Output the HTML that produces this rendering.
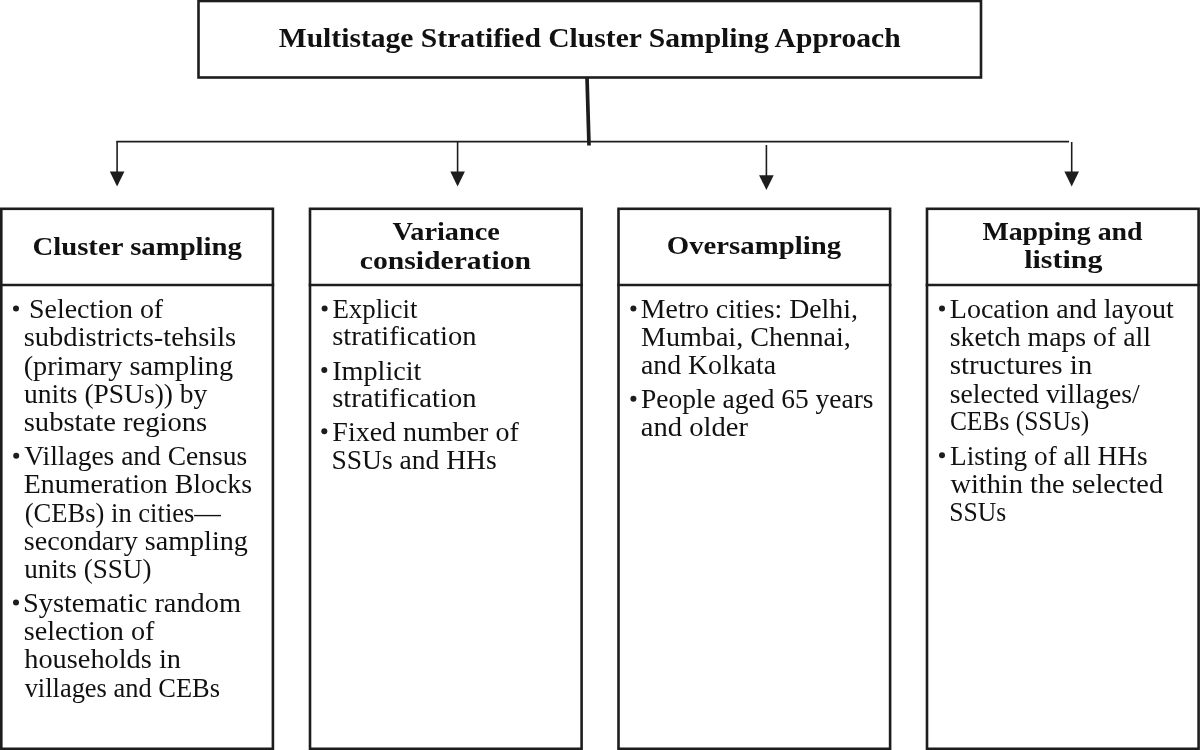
<!DOCTYPE html><html><head><meta charset="utf-8"><style>html,body{margin:0;padding:0;background:#fff;overflow:hidden}svg{display:block;will-change:transform}</style></head><body>
<svg width="1200" height="750" viewBox="0 0 1200 750">
<rect x="198.5" y="1" width="782.5" height="76.5" fill="none" stroke="#1d1d1d" stroke-width="2.6"/>
<line x1="587" y1="77" x2="589" y2="145.5" stroke="#1d1d1d" stroke-width="3.7"/>
<line x1="116.5" y1="141.6" x2="1069" y2="141.6" stroke="#1d1d1d" stroke-width="1.6"/>
<line x1="117.1" y1="141" x2="117.1" y2="173.6" stroke="#1d1d1d" stroke-width="1.6"/>
<polygon points="109.8,171.6 124.39999999999999,171.6 117.1,186.4" fill="#1d1d1d"/>
<line x1="457.6" y1="141" x2="457.6" y2="173.6" stroke="#1d1d1d" stroke-width="1.6"/>
<polygon points="450.3,171.6 464.90000000000003,171.6 457.6,186.4" fill="#1d1d1d"/>
<line x1="766.4" y1="145" x2="766.4" y2="177.2" stroke="#1d1d1d" stroke-width="1.6"/>
<polygon points="759.1,175.2 773.6999999999999,175.2 766.4,190.0" fill="#1d1d1d"/>
<line x1="1071.7" y1="142" x2="1071.7" y2="173.6" stroke="#1d1d1d" stroke-width="1.6"/>
<polygon points="1064.4,171.6 1079.0,171.6 1071.7,186.4" fill="#1d1d1d"/>
<rect x="1.3" y="208.8" width="271.59999999999997" height="540" fill="none" stroke="#1d1d1d" stroke-width="2.6"/>
<line x1="0" y1="285" x2="274.2" y2="285" stroke="#1d1d1d" stroke-width="2.6"/>
<rect x="310.0" y="208.8" width="271.59999999999997" height="540" fill="none" stroke="#1d1d1d" stroke-width="2.6"/>
<line x1="308.7" y1="285" x2="582.9" y2="285" stroke="#1d1d1d" stroke-width="2.6"/>
<rect x="618.5" y="208.8" width="271.59999999999997" height="540" fill="none" stroke="#1d1d1d" stroke-width="2.6"/>
<line x1="617.2" y1="285" x2="891.4000000000001" y2="285" stroke="#1d1d1d" stroke-width="2.6"/>
<rect x="927.0" y="208.8" width="271.59999999999997" height="540" fill="none" stroke="#1d1d1d" stroke-width="2.6"/>
<line x1="925.7" y1="285" x2="1199.9" y2="285" stroke="#1d1d1d" stroke-width="2.6"/>
<circle cx="16" cy="308.6" r="3" fill="#1d1d1d"/>
<circle cx="16.2" cy="455.7" r="3" fill="#1d1d1d"/>
<circle cx="16" cy="602.5" r="3" fill="#1d1d1d"/>
<circle cx="324.6" cy="308.6" r="3" fill="#1d1d1d"/>
<circle cx="324.3" cy="370" r="3" fill="#1d1d1d"/>
<circle cx="324.3" cy="431.3" r="3" fill="#1d1d1d"/>
<circle cx="633.4" cy="308.6" r="3" fill="#1d1d1d"/>
<circle cx="633.4" cy="398.7" r="3" fill="#1d1d1d"/>
<circle cx="942" cy="308.4" r="3" fill="#1d1d1d"/>
<circle cx="942" cy="455.2" r="3" fill="#1d1d1d"/>
<g font-family="&quot;Liberation Serif&quot;, serif" fill="#111">
<text x="278.73" y="47" font-size="28.0" font-weight="bold" textLength="621.89" lengthAdjust="spacingAndGlyphs">Multistage Stratified Cluster Sampling Approach</text>
<text x="32.46" y="254.5" font-size="25.8" font-weight="bold" textLength="209.51" lengthAdjust="spacingAndGlyphs">Cluster sampling</text>
<text x="392.47" y="240.3" font-size="25.8" font-weight="bold" textLength="107.34" lengthAdjust="spacingAndGlyphs">Variance</text>
<text x="359.75" y="268.6" font-size="25.8" font-weight="bold" textLength="171.29" lengthAdjust="spacingAndGlyphs">consideration</text>
<text x="666.81" y="254.3" font-size="25.8" font-weight="bold" textLength="174.25" lengthAdjust="spacingAndGlyphs">Oversampling</text>
<text x="982.40" y="240.3" font-size="25.8" font-weight="bold" textLength="160.17" lengthAdjust="spacingAndGlyphs">Mapping and</text>
<text x="1024.23" y="268.4" font-size="25.8" font-weight="bold" textLength="78.18" lengthAdjust="spacingAndGlyphs">listing</text>
<text x="29.05" y="317.5" font-size="26.9" textLength="134.10" lengthAdjust="spacingAndGlyphs">Selection of</text>
<text x="23.71" y="346" font-size="26.9" textLength="212.52" lengthAdjust="spacingAndGlyphs">subdistricts-tehsils</text>
<text x="23.65" y="374.5" font-size="26.9" textLength="209.46" lengthAdjust="spacingAndGlyphs">(primary sampling</text>
<text x="24.06" y="403" font-size="26.9" textLength="183.31" lengthAdjust="spacingAndGlyphs">units (PSUs)) by</text>
<text x="23.71" y="430.5" font-size="26.9" textLength="183.57" lengthAdjust="spacingAndGlyphs">substate regions</text>
<text x="24.33" y="464.5" font-size="26.9" textLength="222.81" lengthAdjust="spacingAndGlyphs">Villages and Census</text>
<text x="23.84" y="493" font-size="26.9" textLength="228.30" lengthAdjust="spacingAndGlyphs">Enumeration Blocks</text>
<text x="24.76" y="521.5" font-size="26.9" textLength="196.19" lengthAdjust="spacingAndGlyphs">(CEBs) in cities—</text>
<text x="23.84" y="550" font-size="26.9" textLength="223.97" lengthAdjust="spacingAndGlyphs">secondary sampling</text>
<text x="24.15" y="578" font-size="26.9" textLength="127.28" lengthAdjust="spacingAndGlyphs">units (SSU)</text>
<text x="23.03" y="611.5" font-size="26.9" textLength="217.95" lengthAdjust="spacingAndGlyphs">Systematic random</text>
<text x="23.78" y="640" font-size="26.9" textLength="130.71" lengthAdjust="spacingAndGlyphs">selection of</text>
<text x="24.24" y="668.4" font-size="26.9" textLength="156.76" lengthAdjust="spacingAndGlyphs">households in</text>
<text x="24.65" y="696.6" font-size="26.9" textLength="195.41" lengthAdjust="spacingAndGlyphs">villages and CEBs</text>
<text x="332.40" y="317.8" font-size="26.9" textLength="85.04" lengthAdjust="spacingAndGlyphs">Explicit</text>
<text x="332.20" y="345.3" font-size="26.9" textLength="144.24" lengthAdjust="spacingAndGlyphs">stratification</text>
<text x="332.24" y="379.5" font-size="26.9" textLength="89.12" lengthAdjust="spacingAndGlyphs">Implicit</text>
<text x="332.20" y="407.2" font-size="26.9" textLength="144.24" lengthAdjust="spacingAndGlyphs">stratification</text>
<text x="332.33" y="440.6" font-size="26.9" textLength="186.39" lengthAdjust="spacingAndGlyphs">Fixed number of</text>
<text x="331.43" y="469" font-size="26.9" textLength="165.32" lengthAdjust="spacingAndGlyphs">SSUs and HHs</text>
<text x="640.87" y="317.8" font-size="26.9" textLength="217.07" lengthAdjust="spacingAndGlyphs">Metro cities: Delhi,</text>
<text x="640.97" y="345.7" font-size="26.9" textLength="209.89" lengthAdjust="spacingAndGlyphs">Mumbai, Chennai,</text>
<text x="640.93" y="374.1" font-size="26.9" textLength="135.08" lengthAdjust="spacingAndGlyphs">and Kolkata</text>
<text x="640.95" y="407.5" font-size="26.9" textLength="232.59" lengthAdjust="spacingAndGlyphs">People aged 65 years</text>
<text x="640.87" y="435.5" font-size="26.9" textLength="107.04" lengthAdjust="spacingAndGlyphs">and older</text>
<text x="949.81" y="317.8" font-size="26.9" textLength="224.06" lengthAdjust="spacingAndGlyphs">Location and layout</text>
<text x="949.76" y="345.7" font-size="26.9" textLength="201.14" lengthAdjust="spacingAndGlyphs">sketch maps of all</text>
<text x="949.78" y="374.1" font-size="26.9" textLength="142.61" lengthAdjust="spacingAndGlyphs">structures in</text>
<text x="949.78" y="402.8" font-size="26.9" textLength="190.00" lengthAdjust="spacingAndGlyphs">selected villages/</text>
<text x="949.88" y="429.7" font-size="26.9" textLength="139.34" lengthAdjust="spacingAndGlyphs">CEBs (SSUs)</text>
<text x="950.00" y="464.5" font-size="26.9" textLength="197.60" lengthAdjust="spacingAndGlyphs">Listing of all HHs</text>
<text x="950.45" y="493" font-size="26.9" textLength="212.68" lengthAdjust="spacingAndGlyphs">within the selected</text>
<text x="949.20" y="520.5" font-size="26.9" textLength="57.02" lengthAdjust="spacingAndGlyphs">SSUs</text>
</g></svg></body></html>
